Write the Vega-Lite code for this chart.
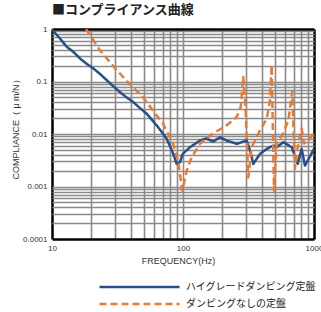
{
  "$schema": "https://vega.github.io/schema/vega-lite/v6.json",
  "autosize": "none",
  "width": 262,
  "height": 210,
  "padding": {"left": 52, "top": 29, "right": 7, "bottom": 73},
  "background": "white",
  "config": {
    "view": {"stroke": null},
    "font": "Liberation Sans"
  },
  "title": {
    "text": "■コンプライアンス曲線",
    "anchor": "start",
    "frame": "group",
    "offset": 8,
    "fontSize": 13,
    "font": "Noto Sans CJK JP",
    "fontWeight": "bold",
    "color": "#222222"
  },
  "data": {
    "values": [
      {"f": 10, "c": 0.98, "s": "ハイグレードダンピング定盤"},
      {"f": 11.5, "c": 0.66, "s": "ハイグレードダンピング定盤"},
      {"f": 12.95, "c": 0.458, "s": "ハイグレードダンピング定盤"},
      {"f": 14.5, "c": 0.37, "s": "ハイグレードダンピング定盤"},
      {"f": 16.36, "c": 0.275, "s": "ハイグレードダンピング定盤"},
      {"f": 18.5, "c": 0.215, "s": "ハイグレードダンピング定盤"},
      {"f": 20.7, "c": 0.177, "s": "ハイグレードダンピング定盤"},
      {"f": 23.2, "c": 0.14, "s": "ハイグレードダンピング定盤"},
      {"f": 26.2, "c": 0.106, "s": "ハイグレードダンピング定盤"},
      {"f": 29.5, "c": 0.08, "s": "ハイグレードダンピング定盤"},
      {"f": 33.0, "c": 0.063, "s": "ハイグレードダンピング定盤"},
      {"f": 37.0, "c": 0.05, "s": "ハイグレードダンピング定盤"},
      {"f": 41.7, "c": 0.0406, "s": "ハイグレードダンピング定盤"},
      {"f": 47.0, "c": 0.031, "s": "ハイグレードダンピング定盤"},
      {"f": 52.8, "c": 0.0244, "s": "ハイグレードダンピング定盤"},
      {"f": 58.0, "c": 0.0185, "s": "ハイグレードダンピング定盤"},
      {"f": 63.0, "c": 0.0146, "s": "ハイグレードダンピング定盤"},
      {"f": 69.0, "c": 0.0108, "s": "ハイグレードダンピング定盤"},
      {"f": 75.1, "c": 0.0081, "s": "ハイグレードダンピング定盤"},
      {"f": 84.3, "c": 0.00418, "s": "ハイグレードダンピング定盤"},
      {"f": 89.5, "c": 0.00269, "s": "ハイグレードダンピング定盤"},
      {"f": 94.8, "c": 0.00289, "s": "ハイグレードダンピング定盤"},
      {"f": 99.5, "c": 0.00418, "s": "ハイグレードダンピング定盤"},
      {"f": 113, "c": 0.00559, "s": "ハイグレードダンピング定盤"},
      {"f": 134.8, "c": 0.00751, "s": "ハイグレードダンピング定盤"},
      {"f": 150, "c": 0.0082, "s": "ハイグレードダンピング定盤"},
      {"f": 170, "c": 0.0072, "s": "ハイグレードダンピング定盤"},
      {"f": 191.6, "c": 0.00869, "s": "ハイグレードダンピング定盤"},
      {"f": 215.6, "c": 0.00751, "s": "ハイグレードダンピング定盤"},
      {"f": 257, "c": 0.00649, "s": "ハイグレードダンピング定盤"},
      {"f": 306, "c": 0.00751, "s": "ハイグレードダンピング定盤"},
      {"f": 325, "c": 0.00483, "s": "ハイグレードダンピング定盤"},
      {"f": 344, "c": 0.00269, "s": "ハイグレードダンピング定盤"},
      {"f": 387, "c": 0.00418, "s": "ハイグレードダンピング定盤"},
      {"f": 436, "c": 0.00521, "s": "ハイグレードダンピング定盤"},
      {"f": 489, "c": 0.00603, "s": "ハイグレードダンピング定盤"},
      {"f": 519, "c": 0.00559, "s": "ハイグレードダンピング定盤"},
      {"f": 583, "c": 0.00697, "s": "ハイグレードダンピング定盤"},
      {"f": 676, "c": 0.00559, "s": "ハイグレードダンピング定盤"},
      {"f": 751, "c": 0.00269, "s": "ハイグレードダンピング定盤"},
      {"f": 805, "c": 0.00521, "s": "ハイグレードダンピング定盤"},
      {"f": 853, "c": 0.0025, "s": "ハイグレードダンピング定盤"},
      {"f": 1000, "c": 0.00521, "s": "ハイグレードダンピング定盤"},
      {"f": 18.2, "c": 1.0, "s": "ダンピングなしの定盤"},
      {"f": 23.2, "c": 0.396, "s": "ダンピングなしの定盤"},
      {"f": 30.3, "c": 0.179, "s": "ダンピングなしの定盤"},
      {"f": 38.0, "c": 0.0968, "s": "ダンピングなしの定盤"},
      {"f": 49.5, "c": 0.05, "s": "ダンピングなしの定盤"},
      {"f": 63.0, "c": 0.0226, "s": "ダンピングなしの定盤"},
      {"f": 70.3, "c": 0.0159, "s": "ダンピングなしの定盤"},
      {"f": 76.8, "c": 0.0102, "s": "ダンピングなしの定盤"},
      {"f": 83.9, "c": 0.00658, "s": "ダンピングなしの定盤"},
      {"f": 91.6, "c": 0.00311, "s": "ダンピングなしの定盤"},
      {"f": 98.8, "c": 0.00083, "s": "ダンピングなしの定盤"},
      {"f": 106.7, "c": 0.002, "s": "ダンピングなしの定盤"},
      {"f": 116.5, "c": 0.0036, "s": "ダンピングなしの定盤"},
      {"f": 134.8, "c": 0.00658, "s": "ダンピングなしの定盤"},
      {"f": 169.4, "c": 0.0102, "s": "ダンピングなしの定盤"},
      {"f": 215.6, "c": 0.0146, "s": "ダンピングなしの定盤"},
      {"f": 257, "c": 0.021, "s": "ダンピングなしの定盤"},
      {"f": 275.8, "c": 0.0326, "s": "ダンピングなしの定盤"},
      {"f": 288.5, "c": 0.122, "s": "ダンピングなしの定盤"},
      {"f": 301, "c": 0.0282, "s": "ダンピングなしの定盤"},
      {"f": 315, "c": 0.00149, "s": "ダンピングなしの定盤"},
      {"f": 334.5, "c": 0.00559, "s": "ダンピングなしの定盤"},
      {"f": 376, "c": 0.0102, "s": "ダンピングなしの定盤"},
      {"f": 436, "c": 0.0198, "s": "ダンピングなしの定盤"},
      {"f": 461, "c": 0.0438, "s": "ダンピングなしの定盤"},
      {"f": 475, "c": 0.205, "s": "ダンピングなしの定盤"},
      {"f": 486, "c": 0.0102, "s": "ダンピングなしの定盤"},
      {"f": 495, "c": 0.00083, "s": "ダンピングなしの定盤"},
      {"f": 519, "c": 0.00658, "s": "ダンピングなしの定盤"},
      {"f": 580, "c": 0.0102, "s": "ダンピングなしの定盤"},
      {"f": 637, "c": 0.0181, "s": "ダンピングなしの定盤"},
      {"f": 682, "c": 0.063, "s": "ダンピングなしの定盤"},
      {"f": 716, "c": 0.00219, "s": "ダンピングなしの定盤"},
      {"f": 751, "c": 0.00559, "s": "ダンピングなしの定盤"},
      {"f": 805, "c": 0.0127, "s": "ダンピングなしの定盤"},
      {"f": 840, "c": 0.00658, "s": "ダンピングなしの定盤"},
      {"f": 900, "c": 0.00751, "s": "ダンピングなしの定盤"},
      {"f": 1000, "c": 0.0102, "s": "ダンピングなしの定盤"}
    ]
  },
  "mark": {"type": "line", "strokeWidth": 2.5, "clip": true, "strokeJoin": "round"},
  "encoding": {
    "x": {
      "field": "f",
      "type": "quantitative",
      "scale": {"type": "log", "domain": [10, 1000], "nice": false},
      "axis": {
        "values": [10, 20, 30, 40, 50, 60, 70, 80, 90, 100, 200, 300, 400, 500, 600, 700, 800, 900, 1000],
        "labelExpr": "datum.value == 10 ? '10' : datum.value == 100 ? '100' : datum.value == 1000 ? '1000' : ''",
        "labelOverlap": false,
        "labelBound": false,
        "labelFlush": false,
        "ticks": false,
        "domain": false,
        "labelPadding": 5,
        "labelFontSize": 8,
        "labelColor": "#333333",
        "grid": true,
        "gridColor": {"condition": {"test": "datum.value == 10 || datum.value == 1000", "value": "#000000"}, "value": "#8a8a8a"},
        "gridWidth": {"condition": {"test": "datum.value == 10 || datum.value == 1000", "value": 2.5}, "value": 1.6},
        "title": "FREQUENCY(Hz)",
        "titleFontSize": 9,
        "titleFontWeight": "normal",
        "titleColor": "#333333",
        "titlePadding": 4,
        "titleX": 126,
        "titleAlign": "center"
      }
    },
    "y": {
      "field": "c",
      "type": "quantitative",
      "scale": {"type": "log", "domain": [0.0001, 1], "nice": false},
      "axis": {
        "values": [0.0001, 0.0002, 0.0003, 0.0004, 0.0005, 0.0006, 0.0007, 0.0008, 0.0009, 0.001, 0.002, 0.003, 0.004, 0.005, 0.006, 0.007, 0.008, 0.009, 0.01, 0.02, 0.03, 0.04, 0.05, 0.06, 0.07, 0.08, 0.09, 0.1, 0.2, 0.3, 0.4, 0.5, 0.6, 0.7, 0.8, 0.9, 1],
        "labelExpr": "datum.value == 0.0001 ? '0.0001' : datum.value == 0.001 ? '0.001' : datum.value == 0.01 ? '0.01' : datum.value == 0.1 ? '0.1' : datum.value == 1 ? '1' : ''",
        "labelOverlap": false,
        "labelBound": false,
        "labelFlush": false,
        "ticks": false,
        "domain": false,
        "labelPadding": 5,
        "labelFontSize": 8,
        "labelColor": "#333333",
        "grid": true,
        "gridColor": {"condition": {"test": "datum.value == 1 || datum.value == 0.0001", "value": "#000000"}, "value": "#8a8a8a"},
        "gridWidth": {"condition": {"test": "datum.value == 1 || datum.value == 0.0001", "value": 2.5}, "value": 1.6},
        "title": "COMPLIANCE（ μ m/N）",
        "titleFontSize": 9,
        "titleFontWeight": "normal",
        "titleColor": "#333333",
        "titleX": -37,
        "titleY": 98,
        "titleAngle": 270,
        "titleAlign": "center",
        "titleBaseline": "middle"
      }
    },
    "color": {
      "field": "s",
      "type": "nominal",
      "scale": {"domain": ["ハイグレードダンピング定盤", "ダンピングなしの定盤"], "range": ["#27508a", "#ec7a30"]},
      "legend": {
        "title": null,
        "orient": "none",
        "legendX": 46,
        "legendY": 251,
        "padding": 0,
        "clipHeight": 14,
        "rowPadding": 3,
        "symbolType": "stroke",
        "symbolSize": 6400,
        "symbolStrokeWidth": 2.5,
        "labelFontSize": 10,
        "labelFont": "Noto Sans CJK JP",
        "labelColor": "#222222",
        "labelOffset": 5
      }
    },
    "strokeDash": {
      "field": "s",
      "type": "nominal",
      "scale": {"domain": ["ハイグレードダンピング定盤", "ダンピングなしの定盤"], "range": [[1, 0], [7, 4]]},
      "legend": {
        "title": null,
        "orient": "none",
        "legendX": 46,
        "legendY": 251,
        "padding": 0,
        "clipHeight": 14,
        "rowPadding": 3,
        "symbolType": "stroke",
        "symbolSize": 6400,
        "symbolStrokeWidth": 2.5,
        "labelFontSize": 10,
        "labelFont": "Noto Sans CJK JP",
        "labelColor": "#222222",
        "labelOffset": 5
      }
    }
  }
}
